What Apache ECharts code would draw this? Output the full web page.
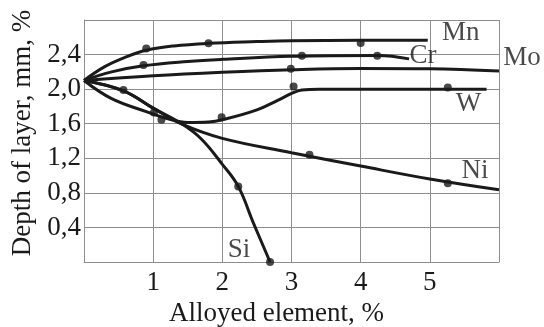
<!DOCTYPE html>
<html>
<head>
<meta charset="utf-8">
<script src="https://cdn.jsdelivr.net/npm/echarts@6/dist/echarts.min.js"></script>
<style>
  html, body { margin: 0; padding: 0; background: #fff; }
  #chart { width: 544px; height: 327px; }
</style>
</head>
<body>
<div id="chart"></div>
<script>
// curves: [alloy %, depth]
const mnLine = [[0, 2.1], [0.3, 2.26], [0.6, 2.37], [0.9, 2.45], [1.3, 2.5], [1.8, 2.53], [2.5, 2.55], [3, 2.56], [4, 2.565], [4.97, 2.565]];
const crLine = [[0, 2.1], [0.4, 2.2], [0.86, 2.27], [1.5, 2.32], [2, 2.345], [3, 2.38], [4.25, 2.39], [4.7, 2.35]];
const moLine = [[0, 2.1], [1, 2.155], [2, 2.195], [3, 2.225], [4, 2.24], [5, 2.235], [6, 2.21]];
const wLine = [[0, 2.1], [0.4, 1.89], [0.9, 1.74], [1.2, 1.66], [1.5, 1.615], [1.8, 1.62], [2, 1.645], [2.5, 1.76], [2.8, 1.87], [3, 1.95], [3.15, 1.99], [3.4, 2.0], [5.82, 2.0]];
const niLine = [[0, 2.1], [0.57, 1.98], [1, 1.78], [1.4, 1.6], [2, 1.43], [3, 1.265], [4, 1.11], [5, 0.96], [6, 0.835]];
const siLine = [[0, 2.1], [0.57, 1.98], [1, 1.78], [1.43, 1.59], [1.7, 1.42], [2.0, 1.13], [2.23, 0.875], [2.45, 0.45], [2.69, 0.0]];

// measured points
const mnDots = [[0.9, 2.47], [1.8, 2.53], [4.0, 2.535]];
const crDots = [[0.86, 2.28], [3.15, 2.385], [4.24, 2.385]];
const moDots = [[2.99, 2.235]];
const wDots = [[1.01, 1.73], [1.99, 1.675], [3.03, 2.03], [5.26, 2.02]];
const niDots = [[0.57, 1.99], [1.12, 1.645], [3.26, 1.24], [5.26, 0.91]];
const siDots = [[2.23, 0.875], [2.69, 0.0]];

const xTickLabels = ['1', '2', '3', '4', '5'];
const yTickLabels = ['0,4', '0,8', '1,2', '1,6', '2,0', '2,4'];

const font = 'Liberation Serif';
const fs = 27;
const ink = '#1a1a1a';
const gridGray = '#8e8e8e';

const curves = [
  { name: 'Mn', line: mnLine, dots: mnDots, off: [33, -7] },
  { name: 'Cr', line: crLine, dots: crDots, off: [14, -3] },
  { name: 'Mo', line: moLine, dots: moDots, off: [23, -13] },
  { name: 'W', line: wLine, dots: wDots, off: [-18, 15] },
  { name: 'Ni', line: niLine, dots: niDots, off: [-24, -19] },
  { name: 'Si', line: siLine, dots: siDots, off: [-31, -12] }
];

const series = [];
curves.forEach(c => {
  series.push({
    name: c.name,
    type: 'line',
    data: c.line,
    smooth: 0.4,
    showSymbol: false,
    lineStyle: { color: ink, width: 3 },
    z: 3
  });
  series.push({
    type: 'scatter',
    data: c.dots,
    symbolSize: 8,
    itemStyle: { color: ink },
    z: 4
  });
  // text label sitting next to the end of the curve
  series.push({
    type: 'scatter',
    data: [c.line[c.line.length - 1]],
    symbolSize: 1,
    itemStyle: { color: 'rgba(0,0,0,0)' },
    label: {
      show: true,
      position: 'inside',
      offset: c.off,
      formatter: c.name,
      fontFamily: font,
      fontSize: fs,
      color: ink
    },
    z: 5
  });
});

const chart = echarts.init(document.getElementById('chart'));
chart.setOption({
  animation: false,
  grid: { left: 84, right: 45, top: 20, bottom: 65, outerBoundsMode: 'none' },
  xAxis: {
    type: 'value',
    min: 0,
    max: 6,
    interval: 1,
    name: 'Alloyed element, %',
    nameLocation: 'middle',
    nameGap: 37,
    nameTextStyle: { fontFamily: font, fontSize: fs, color: ink, padding: [0, 30, 0, 0] },
    axisLine: { lineStyle: { color: gridGray, width: 1 } },
    axisTick: { show: false },
    axisLabel: {
      margin: 7,
      fontFamily: font,
      fontSize: fs,
      color: ink,
      formatter: v => xTickLabels.includes(String(v)) ? String(v) : ''
    },
    splitLine: { show: true, lineStyle: { color: gridGray, width: 1 } }
  },
  yAxis: {
    type: 'value',
    min: 0,
    max: 2.8,
    interval: 0.4,
    name: 'Depth of layer, mm, %',
    nameLocation: 'middle',
    nameGap: 45,
    nameTextStyle: { fontFamily: font, fontSize: fs, color: ink, padding: [0, 0, 0, 16] },
    axisLine: { show: true, lineStyle: { color: gridGray, width: 1 } },
    axisTick: { show: false },
    axisLabel: {
      margin: 3,
      fontFamily: font,
      fontSize: fs,
      color: ink,
      formatter: v => {
        const s = v.toFixed(1).replace('.', ',');
        return yTickLabels.includes(s) ? s : '';
      }
    },
    splitLine: { show: true, lineStyle: { color: gridGray, width: 1 } }
  },
  series: series
});
</script>
</body>
</html>
